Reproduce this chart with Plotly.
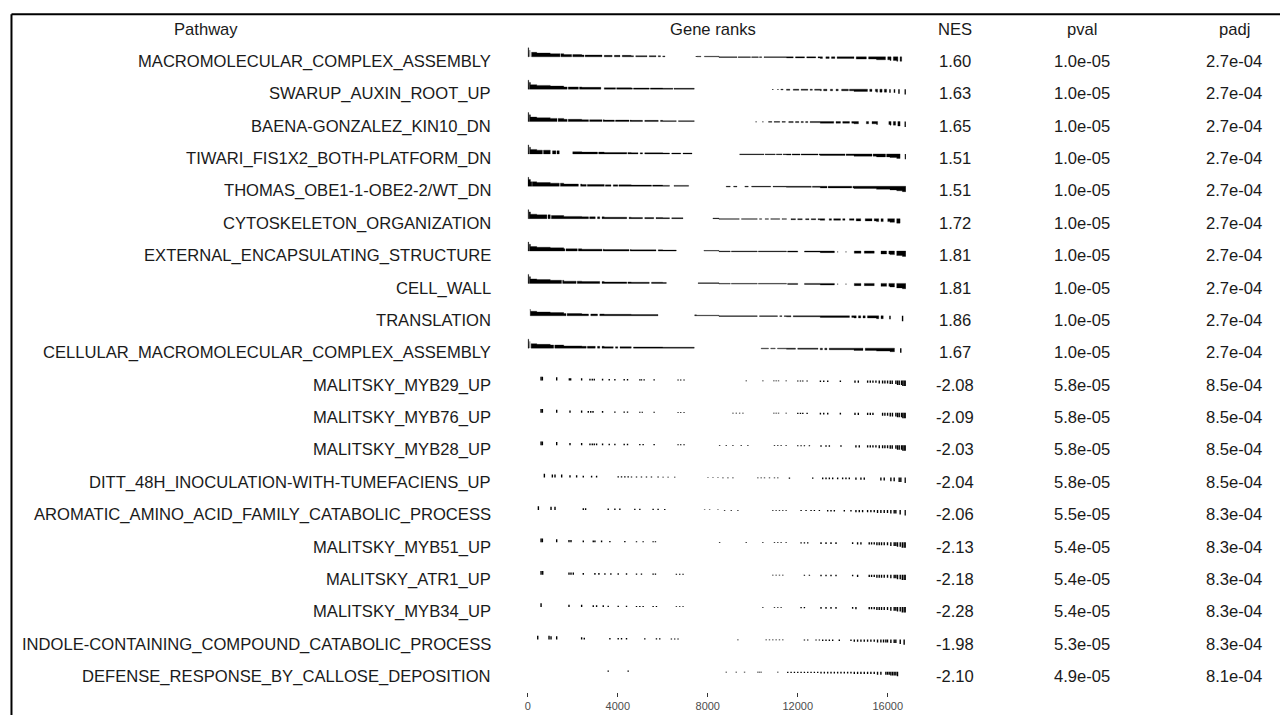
import bisect
import plotly.graph_objects as go

# ---------------- data ----------------
pathways = [
    "MACROMOLECULAR_COMPLEX_ASSEMBLY", "SWARUP_AUXIN_ROOT_UP", "BAENA-GONZALEZ_KIN10_DN",
    "TIWARI_FIS1X2_BOTH-PLATFORM_DN", "THOMAS_OBE1-1-OBE2-2/WT_DN", "CYTOSKELETON_ORGANIZATION",
    "EXTERNAL_ENCAPSULATING_STRUCTURE", "CELL_WALL", "TRANSLATION",
    "CELLULAR_MACROMOLECULAR_COMPLEX_ASSEMBLY", "MALITSKY_MYB29_UP", "MALITSKY_MYB76_UP",
    "MALITSKY_MYB28_UP", "DITT_48H_INOCULATION-WITH-TUMEFACIENS_UP",
    "AROMATIC_AMINO_ACID_FAMILY_CATABOLIC_PROCESS", "MALITSKY_MYB51_UP", "MALITSKY_ATR1_UP",
    "MALITSKY_MYB34_UP", "INDOLE-CONTAINING_COMPOUND_CATABOLIC_PROCESS",
    "DEFENSE_RESPONSE_BY_CALLOSE_DEPOSITION",
]
nes = [1.60, 1.63, 1.65, 1.51, 1.51, 1.72, 1.81, 1.81, 1.86, 1.67,
       -2.08, -2.09, -2.03, -2.04, -2.06, -2.13, -2.18, -2.28, -1.98, -2.10]
pval = [1.0e-05] * 10 + [5.8e-05, 5.8e-05, 5.8e-05, 5.8e-05, 5.5e-05,
                         5.4e-05, 5.4e-05, 5.4e-05, 5.3e-05, 4.9e-05]
padj = [2.7e-04] * 10 + [8.5e-04, 8.5e-04, 8.5e-04, 8.5e-04, 8.3e-04,
                         8.3e-04, 8.3e-04, 8.3e-04, 8.3e-04, 8.1e-04]

n_genes = 16807
axis_ticks = [0, 4000, 8000, 12000, 16000]

# ranked statistic (scaled to max |stat| = 1), piecewise by rank
stat_breaks = [0, 40, 120, 400, 1000, 1600, 2400, 3400, 4600, 6000, 7500, 8500,
               11500, 13000, 14500, 15500, 16100, 16400, 16650]
stat_values = [1.0, 0.75, 0.5, 0.42, 0.35, 0.25, 0.2, 0.16, 0.13, 0.1, 0.06, -0.08,
               -0.12, -0.18, -0.25, -0.33, -0.4, -0.5, -0.6]

# dense runs of pathway genes [start rank, end rank]
runs_macromolecular = [[0, 50], [90, 120], [170, 1430], [1470, 1950], [2000, 2500], [2550, 3300],
                       [3400, 3750], [3850, 4100], [4200, 4700], [4800, 5300], [5400, 5700],
                       [5800, 5900], [6000, 6100], [7520, 7700], [7850, 9300], [9350, 9900],
                       [9950, 10250], [10300, 10400], [10500, 11800], [11900, 12300], [12400, 12800],
                       [12900, 13100], [13250, 13400], [13500, 13650], [13750, 14500], [14600, 15050],
                       [15150, 15900], [16000, 16150], [16250, 16450], [16550, 16620]]
runs_swarup = [[0, 50], [70, 1750], [1800, 2250], [2300, 3250], [3400, 3900], [3950, 4650],
               [4700, 5400], [5450, 6450], [6500, 7400], [11250, 11350], [11500, 11650],
               [11800, 12050], [12150, 12450], [12550, 12650], [12750, 13050], [13150, 13300],
               [13450, 13550], [13700, 13800], [13950, 14250], [14300, 15100], [15200, 15300],
               [15450, 15550], [15650, 15750], [15850, 15950]]
runs_baena = [[0, 50], [70, 1300], [1350, 1750], [1800, 2700], [2750, 3300], [3350, 3850],
              [3900, 4500], [4550, 5100], [5200, 5800], [5900, 6600], [6700, 7400],
              [10700, 10850], [10950, 11200], [11300, 11450], [11600, 11800], [11900, 12050],
              [12150, 12250], [12350, 12450], [12550, 13600], [13700, 13900], [14000, 14300],
              [14400, 14700], [15050, 15150], [15300, 15550], [16050, 16150], [16250, 16350],
              [16450, 16550]]
runs_tiwari = [[0, 50], [80, 650], [700, 1000], [1100, 1250], [1300, 1400], [2000, 3100],
               [3150, 4400], [4450, 4900], [5000, 5100], [5200, 6300], [6400, 6800], [6900, 7300],
               [9420, 10500], [10550, 11000], [11050, 11300], [11350, 11700], [11750, 12100],
               [12150, 12900], [12950, 14100], [14150, 15300], [15350, 15900], [15950, 16550]]
runs_thomas = [[0, 180], [200, 1400], [1450, 2250], [2350, 2600], [2650, 3400], [3450, 3700],
               [3800, 4000], [4050, 5500], [5550, 6300], [6500, 7150], [8820, 9000], [9150, 9300],
               [9650, 9800], [9950, 10800], [10900, 12600], [12650, 13300], [13350, 14400],
               [14450, 16807]]
runs_cytoskeleton = [[0, 40], [60, 850], [900, 1000], [1050, 2700], [2750, 3000], [3100, 3200],
                     [3300, 4400], [4500, 5100], [5200, 5600], [5700, 6300], [6400, 6900],
                     [8230, 9400], [9500, 10200], [10300, 10400], [10550, 10700], [10800, 11200],
                     [11300, 11500], [11700, 11900], [12000, 12200], [12350, 12500], [12600, 12800],
                     [12900, 13200], [13400, 13500], [13600, 13900], [14000, 14100], [14300, 14500],
                     [14600, 14800], [15000, 15300], [15400, 15600], [15700, 15800], [16000, 16300],
                     [16400, 16550]]
runs_external = [[0, 50], [70, 1650], [1700, 2200], [2250, 3300], [3350, 4500], [4550, 5700],
                 [5800, 6600], [7830, 9000], [9050, 10200], [10250, 11500], [11550, 12000],
                 [12300, 13630], [13775, 13800], [14145, 14170], [14514, 14810], [14960, 15400],
                 [15700, 15950], [16050, 16300], [16400, 16807]]
runs_cell_wall = [[0, 50], [70, 1500], [1550, 2150], [2200, 3200], [3300, 4400], [4450, 5400],
                  [5500, 6160], [7570, 9000], [9050, 10200], [10250, 11500], [11550, 12000],
                  [12300, 13630], [13775, 13800], [14145, 14170], [14514, 14810], [14960, 15400],
                  [15700, 15950], [16050, 16300], [16400, 16807]]
runs_translation = [[110, 1700], [1750, 2700], [2800, 3100], [3200, 5790], [7420, 10200],
                    [10300, 11100], [11200, 11300], [11400, 11700], [11800, 14300], [14400, 14600],
                    [14700, 14800], [14900, 15000], [15100, 15600], [15700, 15800]]
runs_cellular = [[0, 50], [90, 120], [150, 1150], [1200, 2600], [2650, 3000], [3100, 3200],
                 [3300, 3800], [3900, 4000], [4100, 4600], [4700, 7400], [10375, 10700],
                 [10800, 11000], [11100, 11900], [12000, 12900], [13000, 13100], [13200, 13300],
                 [13400, 14900], [15000, 16300]]

# individual pathway genes (ranks)
ticks_macromolecular = [7494]
ticks_swarup = [10890, 11120, 16100, 16300, 16500, 16780]
ticks_baena = [10150, 10450, 16780]
ticks_tiwari = [16790]
ticks_thomas = []
ticks_cytoskeleton = []
ticks_external = []
ticks_cell_wall = []
ticks_translation = [16100, 16660]
ticks_cellular = [16580]
ticks_myb29 = [591, 650, 1286, 1848, 1907, 2394, 2764, 2867, 2956, 3325, 3621, 3872, 4286, 4434,
               4981, 5055, 5173, 5617, 6681, 6799, 6947, 9712, 10451, 10939, 11042, 11146, 11486,
               12003, 12121, 12225, 12417, 13008, 13156, 13333, 13895, 14545, 14693, 15107, 15225,
               15343, 15476, 15624, 15772, 15875, 15994, 16112, 16200, 16363, 16437, 16511, 16614,
               16673, 16733, 16792]
ticks_myb76 = [591, 650, 1286, 1877, 2394, 2690, 2800, 2900, 3325, 3872, 4286, 4434, 4981, 5090,
               5617, 6681, 6799, 6947, 9121, 9269, 9417, 9564, 10939, 11042, 11146, 11486, 12003,
               12121, 12225, 12417, 13008, 13156, 13333, 13895, 14545, 14693, 15107, 15225, 15343,
               15772, 15875, 15994, 16112, 16210, 16363, 16437, 16511, 16614, 16673, 16733, 16792]
ticks_myb28 = [591, 650, 1286, 1877, 2394, 2764, 2867, 2956, 3059, 3325, 3621, 3872, 4286, 4434,
               4981, 5128, 5617, 6681, 6799, 6947, 8528, 8823, 9119, 9488, 9784, 10966, 11114,
               11262, 11484, 12001, 12149, 12297, 12519, 13035, 13257, 13405, 13922, 14587, 14735,
               15107, 15225, 15343, 15476, 15624, 15772, 15875, 15994, 16112, 16200, 16363, 16437,
               16511, 16614, 16673, 16733, 16792]
ticks_ditt = [738, 1093, 1211, 1507, 1877, 2172, 2468, 2837, 3059, 4020, 4167, 4315, 4463, 4611,
              4833, 5054, 5276, 5498, 5793, 6015, 6237, 6532, 8010, 8232, 8454, 8675, 8897, 9119,
              10227, 10375, 10523, 10745, 10966, 11114, 11631, 12666, 13109, 13257, 13405, 13553,
              13774, 13996, 14144, 14292, 14587, 14809, 14957, 15696, 15844, 16140, 16287, 16509,
              16583, 16780]
ticks_aromatic = [472, 1034, 1211, 2468, 2571, 3576, 3872, 4093, 4759, 4981, 5572, 5793, 6089,
                  7862, 8084, 8454, 8749, 9045, 9340, 10892, 11040, 11188, 11336, 11484, 12149,
                  12370, 12592, 12740, 12962, 13331, 13479, 13627, 14070, 14366, 14587, 14735,
                  14883, 15105, 15252, 15400, 15548, 15696, 15844, 15991, 16139, 16287, 16361,
                  16553, 16780]
ticks_myb51 = [591, 650, 1285, 1832, 1921, 2468, 2911, 2985, 3281, 3650, 4315, 4833, 5128, 5572,
               5675, 8528, 9710, 10449, 10966, 11114, 11262, 11484, 12149, 12297, 12444, 13035,
               13257, 13479, 13701, 14440, 14661, 14809, 15178, 15282, 15400, 15519, 15622, 15725,
               15844, 15991, 16139, 16287, 16361, 16435, 16556, 16650, 16730, 16790]
ticks_atr1 = [591, 665, 1832, 1921, 2024, 2468, 2985, 3162, 3429, 3694, 4020, 4389, 4833, 5054,
              5572, 5675, 6606, 6754, 6902, 10892, 11040, 11188, 11336, 12297, 12519, 13035, 13257,
              13479, 13701, 14440, 14661, 15178, 15282, 15400, 15519, 15622, 15725, 15844, 15991,
              16139, 16287, 16361, 16435, 16556, 16650, 16730, 16790]
ticks_myb34 = [591, 1832, 2394, 2911, 3059, 3355, 3576, 4020, 4389, 4833, 4981, 5128, 5572, 5720,
               6606, 6754, 6902, 10449, 10966, 11114, 11262, 12149, 12297, 13035, 13257, 13479,
               13701, 14440, 14587, 15178, 15282, 15400, 15519, 15622, 15725, 15844, 15991, 16139,
               16287, 16361, 16435, 16556, 16650, 16730, 16790]
ticks_indole = [443, 945, 1034, 1285, 2394, 2512, 3650, 4020, 4167, 4389, 5202, 5720, 5867, 6384,
                6532, 6680, 9340, 10597, 10745, 10892, 11040, 11188, 11336, 12297, 12444, 12814,
                12962, 13109, 13257, 13405, 13553, 13848, 14366, 14514, 14661, 14809, 14957, 15105,
                15252, 15400, 15548, 15696, 15814, 15917, 15991, 16140, 16287, 16361, 16556, 16730]
ticks_defense = [3576, 4463, 8823, 9267, 9636, 10227, 10301, 10375, 11114, 11557, 11705, 11853,
                 12001, 12149, 12297, 12444, 12592, 12740, 12888, 13035, 13183, 13331, 13479,
                 13627, 13774, 13922, 14070, 14218, 14366, 14514, 14661, 14809, 14957, 15105,
                 15252, 15400, 15548, 15696, 15917, 15991, 16065, 16139, 16213, 16287, 16361, 16435]

row_runs = [runs_macromolecular, runs_swarup, runs_baena, runs_tiwari, runs_thomas,
            runs_cytoskeleton, runs_external, runs_cell_wall, runs_translation, runs_cellular] + [[]] * 10
row_ticks = [ticks_macromolecular, ticks_swarup, ticks_baena, ticks_tiwari, ticks_thomas,
             ticks_cytoskeleton, ticks_external, ticks_cell_wall, ticks_translation, ticks_cellular,
             ticks_myb29, ticks_myb76, ticks_myb28, ticks_ditt, ticks_aromatic, ticks_myb51,
             ticks_atr1, ticks_myb34, ticks_indole, ticks_defense]

# ---------------- layout constants ----------------
W, H = 1280, 715
ROW0_PX, ROW_STEP_PX = 61.0, 32.37
BASE_OFF = -4.2 / ROW_STEP_PX      # baseline of the rank ticks, relative to the row centre
AMP = 9.0 / ROW_STEP_PX            # height of a tick with |stat| = 1
FONT = "Liberation Sans, Arial, Helvetica, sans-serif"
FS = 16.6
TXT = "#1a1a1a"


def stat_at(r):
    return stat_values[max(0, bisect.bisect_right(stat_breaks, r) - 1)]


poly_x, poly_y, tick_x, tick_y = [], [], [], []
for i, (runs, ticks) in enumerate(zip(row_runs, row_ticks)):
    base = i + BASE_OFF
    for a, b in runs:
        cuts = [a] + [s for s in stat_breaks if a < s < b] + [b]
        poly_x.append(a); poly_y.append(base)
        for s, e in zip(cuts[:-1], cuts[1:]):
            h = stat_at(s) * AMP
            poly_x += [s, e]; poly_y += [base - h, base - h]
        poly_x += [b, a, None]; poly_y += [base, base, None]
    for r in ticks:
        tick_x += [r, r, None]
        tick_y += [base, base - stat_at(r) * AMP, None]

fig = go.Figure()
fig.add_trace(go.Scatter(x=poly_x, y=poly_y, mode="lines", fill="toself", fillcolor="black",
                         line=dict(color="black", width=0.3), hoverinfo="skip", showlegend=False))
fig.add_trace(go.Scatter(x=tick_x, y=tick_y, mode="lines", line=dict(color="black", width=1.4),
                         hoverinfo="skip", showlegend=False))

y_top = -ROW0_PX / ROW_STEP_PX
y_bot = (H - ROW0_PX) / ROW_STEP_PX

ann = []
def add_text(xpx, yrow, text, anchor="center"):
    ann.append(dict(x=xpx / W, xref="paper", y=yrow, yref="y", text=text, showarrow=False,
                    xanchor=anchor, yanchor="middle", yshift=-0.5,
                    font=dict(family=FONT, size=FS, color=TXT)))

add_text(203, -1, "Pathway")
add_text(712, -1, "Gene ranks")
add_text(954, -1, "NES")
add_text(1082, -1, "pval")
add_text(1234, -1, "padj")
for i, name in enumerate(pathways):
    add_text(491, i, name, "right")
    add_text(954, i, f"{nes[i]:.2f}")
    add_text(1082, i, f"{pval[i]:.1e}")
    add_text(1234, i, f"{padj[i]:.1e}")

fig.update_layout(
    width=W, height=H, margin=dict(l=0, r=0, t=0, b=0),
    paper_bgcolor="white", plot_bgcolor="rgba(0,0,0,0)",
    annotations=ann,
    xaxis=dict(domain=[526 / W, 905 / W], range=[0, n_genes], anchor="free",
               position=1 - 692 / H, showgrid=False, zeroline=False, showline=False,
               ticks="outside", ticklen=4, tickwidth=1, tickcolor="#333333",
               tickvals=axis_ticks, ticktext=[str(t) for t in axis_ticks],
               tickfont=dict(family=FONT, size=11, color="#4d4d4d"), fixedrange=True),
    yaxis=dict(domain=[0, 1], range=[y_bot, y_top], visible=False, fixedrange=True),
    shapes=[
        dict(type="line", xref="paper", yref="paper", x0=8.5 / W, x1=1.0,
             y0=1 - 14.3 / H, y1=1 - 14.3 / H, line=dict(color="black", width=2)),
        dict(type="line", xref="paper", yref="paper", x0=8.5 / W, x1=8.5 / W,
             y0=0, y1=1 - 14.3 / H, line=dict(color="black", width=2)),
    ],
)

fig.write_html("out.html")
